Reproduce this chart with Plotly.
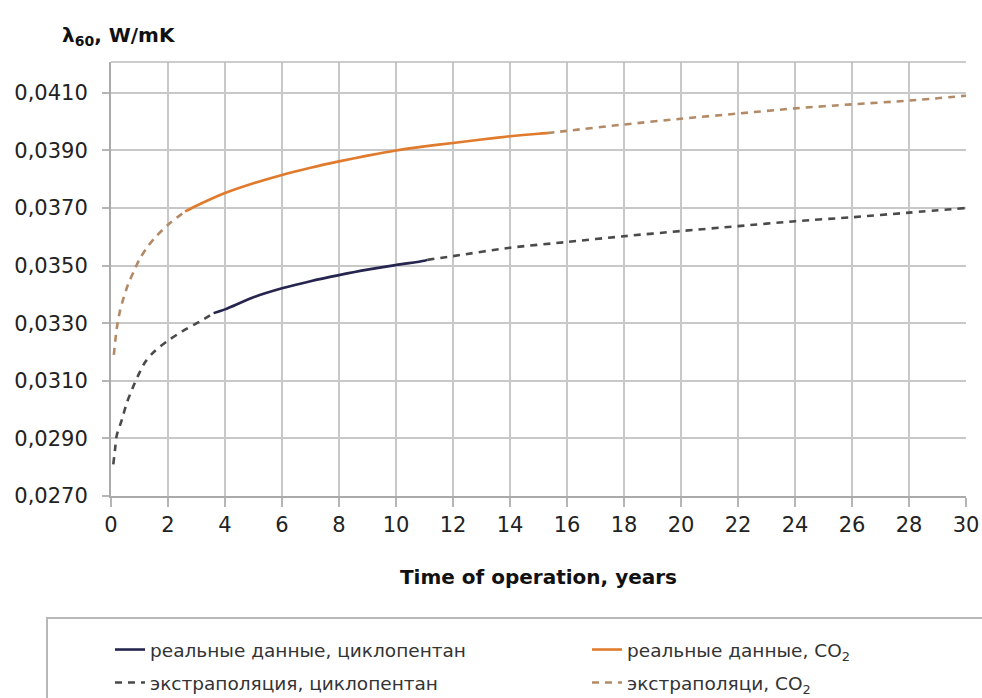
import plotly.graph_objects as go

# ---------------- data ----------------
x_ticks = [0, 2, 4, 6, 8, 10, 12, 14, 16, 18, 20, 22, 24, 26, 28, 30]
y_ticks = [0.0270, 0.0290, 0.0310, 0.0330, 0.0350, 0.0370, 0.0390, 0.0410]

# cyclopentane – real data
cp_real_x = [3.6, 4, 5, 6, 7, 8, 9, 10, 11, 11.1]
cp_real_y = [0.03335, 0.03348, 0.0339, 0.03421, 0.03446, 0.03467, 0.03486, 0.03502, 0.03517, 0.0352]
# cyclopentane – extrapolation (early part, then late part)
cp_ext_early_x = [0.08, 0.14, 0.2, 0.38, 0.55, 0.78, 0.95, 1.2, 1.5, 1.95, 2.5, 3.1, 3.6]
cp_ext_early_y = [0.0281, 0.0286, 0.0291, 0.02964, 0.03022, 0.0308, 0.03118, 0.03165, 0.03200, 0.03236, 0.03272, 0.03305, 0.03335]
cp_ext_late_x = [11.1, 12, 14, 16, 18, 20, 22, 24, 26, 28, 30]
cp_ext_late_y = [0.0352, 0.03533, 0.03562, 0.03582, 0.03602, 0.0362, 0.03637, 0.03654, 0.03668, 0.03684, 0.0370]

# CO2 – real data
co2_real_x = [2.6, 3, 4, 5, 6, 7, 8, 9, 10, 11, 12, 13, 14, 15, 15.3]
co2_real_y = [0.03688, 0.03708, 0.03752, 0.03786, 0.03815, 0.0384, 0.03862, 0.03882, 0.039, 0.03914, 0.03926, 0.03938, 0.03949, 0.03958, 0.0396]
# CO2 – extrapolation (early part, then late part)
co2_ext_early_x = [0.1, 0.2, 0.32, 0.45, 0.6, 0.8, 1.0, 1.3, 1.6, 2.0, 2.6]
co2_ext_early_y = [0.0319, 0.0328, 0.03345, 0.0339, 0.03435, 0.0348, 0.03522, 0.03568, 0.03603, 0.03642, 0.03688]
co2_ext_late_x = [15.3, 16, 18, 20, 22, 24, 26, 28, 30]
co2_ext_late_y = [0.0396, 0.03968, 0.0399, 0.0401, 0.04028, 0.04046, 0.0406, 0.04073, 0.0409]

names = [
    "реальные данные, циклопентан",
    "реальные данные, CO<sub>2</sub>",
    "экстраполяция, циклопентан",
    "экстраполяци, CO<sub>2</sub>",
]
x_title = "Time of operation, years"
y_title = "λ<sub>60</sub>, W/mK"

# ---------------- styling ----------------
FONT = "DejaVu Sans, Verdana, sans-serif"
C_CP = "#25254f"
C_CP_EXT = "#4a4a4a"
C_CO2 = "#e07a2c"
C_CO2_EXT = "#b38a66"
GRID = "#c8c8c8"
W, H = 982, 698
ML, MR, MT, MB = 111, 16, 62, 202
PW, PH = W - ML - MR, H - MT - MB


def px_to_paper_x(px):
    return (px - ML) / PW


def px_to_paper_y(py):
    return (H - MB - py) / PH


fig = go.Figure()
fig.add_trace(go.Scatter(
    x=cp_ext_early_x + [None] + cp_ext_late_x,
    y=cp_ext_early_y + [None] + cp_ext_late_y,
    mode="lines", name=names[2], legend="legend3", showlegend=True,
    line=dict(color=C_CP_EXT, width=2.6, dash="7px,6px", shape="spline", smoothing=0.8),
    connectgaps=False))
fig.add_trace(go.Scatter(
    x=co2_ext_early_x + [None] + co2_ext_late_x,
    y=co2_ext_early_y + [None] + co2_ext_late_y,
    mode="lines", name=names[3], legend="legend4", showlegend=True,
    line=dict(color=C_CO2_EXT, width=2.6, dash="7px,6px", shape="spline", smoothing=0.8),
    connectgaps=False))
fig.add_trace(go.Scatter(
    x=cp_real_x, y=cp_real_y, mode="lines", name=names[0], legend="legend", showlegend=True,
    line=dict(color=C_CP, width=2.6, shape="spline", smoothing=0.8)))
fig.add_trace(go.Scatter(
    x=co2_real_x, y=co2_real_y, mode="lines", name=names[1], legend="legend2", showlegend=True,
    line=dict(color=C_CO2, width=2.6, shape="spline", smoothing=0.8)))

leg_common = dict(xref="paper", yref="paper", xanchor="left", yanchor="middle",
                  orientation="h",
                  bgcolor="rgba(0,0,0,0)", borderwidth=0,
                  font=dict(family=FONT, size=18.5, color="#333333"))
col1_x, col2_x = px_to_paper_x(110), px_to_paper_x(587)
row1_y, row2_y = px_to_paper_y(650), px_to_paper_y(683)

fig.update_layout(
    width=W, height=H,
    paper_bgcolor="white", plot_bgcolor="white",
    margin=dict(l=ML, r=MR, t=MT, b=MB, autoexpand=False),
    separators=", ",
    showlegend=True,
    font=dict(family=FONT, size=22, color="#222222"),
    legend=dict(x=col1_x, y=row1_y, **leg_common),
    legend2=dict(x=col2_x, y=row1_y, **leg_common),
    legend3=dict(x=col1_x, y=row2_y, **leg_common),
    legend4=dict(x=col2_x, y=row2_y, **leg_common),
    xaxis=dict(
        range=[0, 30], tickmode="array", tickvals=x_ticks,
        ticktext=[str(v) for v in x_ticks],
        showgrid=True, gridcolor=GRID, gridwidth=1.6,
        showline=True, linecolor="#aaaaaa", linewidth=2,
        ticks="outside", ticklen=9, tickcolor="#b5b5b5", tickwidth=1.6,
        zeroline=False, automargin=False,
        tickfont=dict(family=FONT, size=21, color="#222222"),
        title=dict(text="<b>" + x_title + "</b>", standoff=34,
                   font=dict(family=FONT, size=20, color="#111111")),
    ),
    yaxis=dict(
        range=[0.0270, 0.04207], tickmode="array", tickvals=y_ticks,
        tickformat=".4f",
        showgrid=True, gridcolor=GRID, gridwidth=1.6,
        showline=True, linecolor="#aaaaaa", linewidth=2,
        ticks="outside", ticklen=7, tickcolor="#b5b5b5", tickwidth=1.6,
        ticklabelstandoff=10,
        zeroline=False, automargin=False,
        tickfont=dict(family=FONT, size=21, color="#222222"),
    ),
    annotations=[dict(
        text="<b>" + y_title + "</b>", xref="paper", yref="paper",
        x=px_to_paper_x(60), y=px_to_paper_y(36), xanchor="left", yanchor="middle",
        showarrow=False,
        font=dict(family=FONT, size=20, color="#111111"))],
    shapes=[
        # top frame line of the plot area
        dict(type="line", xref="paper", yref="paper", x0=0, x1=1, y0=1, y1=1,
             line=dict(color="#bbbbbb", width=1.6)),
        # legend frame (open to the right/bottom like in the reference)
        dict(type="rect", xref="paper", yref="paper",
             x0=px_to_paper_x(47), x1=1.2, y0=-0.8, y1=px_to_paper_y(618),
             line=dict(color="#b8b8b8", width=2), fillcolor="rgba(0,0,0,0)", layer="below"),
    ],
)

fig.write_html("out.html", config={"displayModeBar": False},
               post_script="document.body.style.margin='0';")
